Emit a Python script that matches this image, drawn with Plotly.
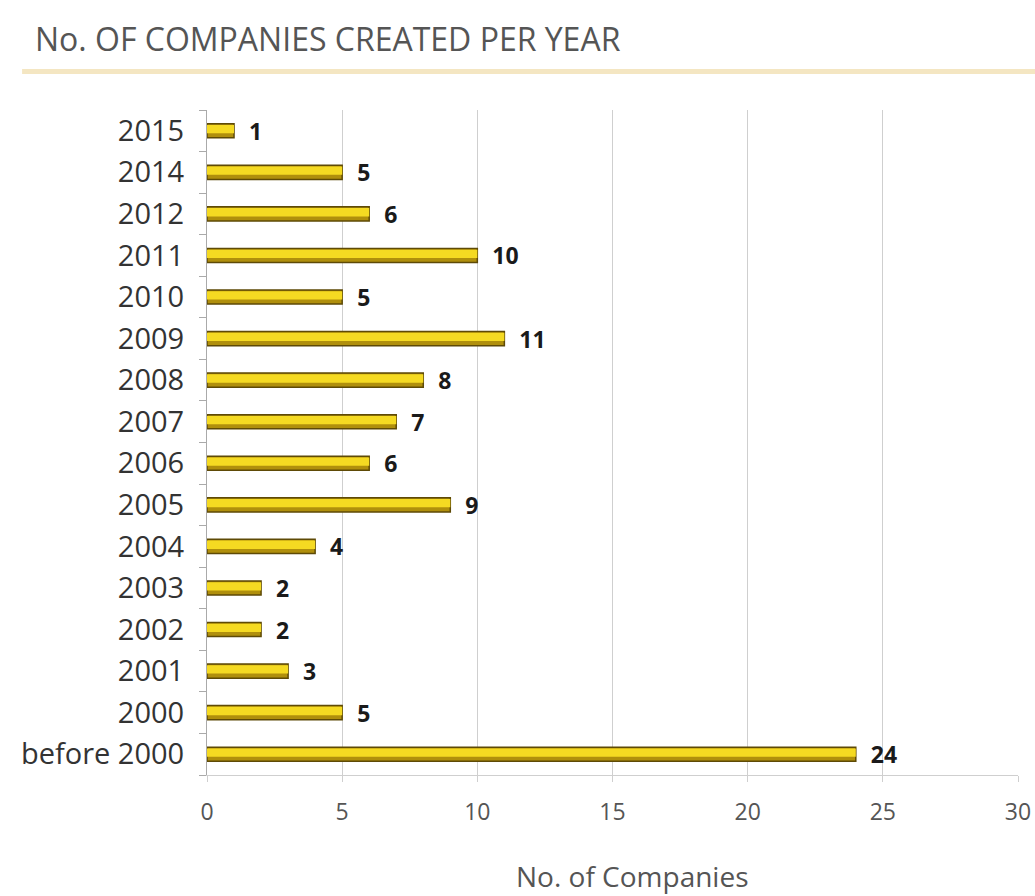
import plotly.graph_objects as go

categories = ["before 2000", "2000", "2001", "2002", "2003", "2004", "2005", "2006",
              "2007", "2008", "2009", "2010", "2011", "2012", "2014", "2015"]
values = [24, 5, 3, 2, 2, 4, 9, 6, 7, 8, 11, 5, 10, 6, 5, 1]
x_ticks = [0, 5, 10, 15, 20, 25, 30]

title_text = "No. OF COMPANIES CREATED PER YEAR"
x_title = "No. of Companies"

fig = go.Figure()
# darker base of the bar (gives the bevelled look)
fig.add_trace(go.Bar(
    y=categories, x=values, orientation="h", width=0.34,
    marker=dict(color="#B08F0C", line=dict(color="#5E4A06", width=1.5)),
    text=["  " + str(v) for v in values], textposition="outside",
    textfont=dict(family="Open Sans", size=23, color="#1a1a1a", weight="bold"),
    constraintext="none", cliponaxis=False, hoverinfo="skip",
))
# bright upper face
fig.add_trace(go.Bar(
    y=categories, x=values, orientation="h", width=0.2, offset=-0.06,
    marker=dict(color="#F5DA22", line=dict(width=0)),
    hoverinfo="skip",
))

fig.update_layout(
    width=1035, height=896,
    margin=dict(l=207, r=17, t=110, b=121),
    paper_bgcolor="white", plot_bgcolor="white",
    barmode="overlay",
    showlegend=False,
    font=dict(family="Open Sans", color="#444"),
    title=dict(text=title_text, xref="container", yref="container",
               x=35 / 1035, y=1 - 40 / 896, xanchor="left", yanchor="middle",
               font=dict(family="Open Sans", size=32, color="#555")),
    shapes=[dict(type="line", xref="paper", yref="paper",
                 x0=-0.228, x1=1.03, y0=1.058, y1=1.058,
                 line=dict(color="#F4E6C2", width=5))],
    annotations=[dict(text=x_title, xref="paper", yref="paper",
                      x=0.525, y=-0.152, xanchor="center", yanchor="middle",
                      showarrow=False,
                      font=dict(family="Open Sans", size=28, color="#555"))],
)

fig.update_xaxes(
    range=[0, 30], tickvals=x_ticks, automargin=False,
    showgrid=True, gridcolor="#CFCFCF", gridwidth=1,
    showline=True, linecolor="#CFCFCF",
    ticks="outside", ticklen=6, tickcolor="#CFCFCF",
    tickfont=dict(family="Open Sans", size=23, color="#555"),
    ticklabelstandoff=10,
    zeroline=False,
)
fig.update_yaxes(
    categoryorder="array", categoryarray=categories, automargin=False,
    showline=True, linecolor="#AAAAAA",
    ticks="outside", ticklen=7, tickcolor="#AAAAAA", tickson="boundaries",
    tickfont=dict(family="Open Sans", size=29, color="#333"),
    ticklabelstandoff=16,
)

fig.write_html("out.html")
